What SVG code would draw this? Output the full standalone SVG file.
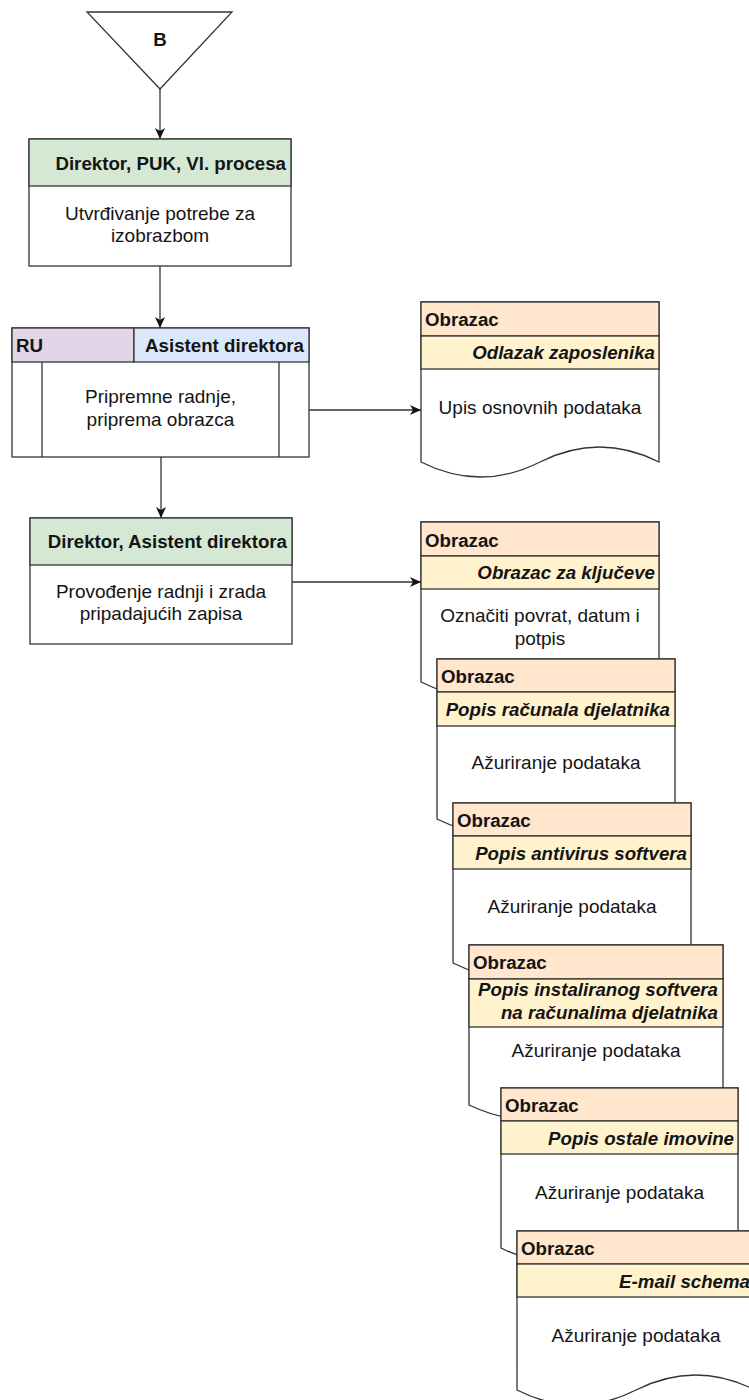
<svg xmlns="http://www.w3.org/2000/svg" width="749" height="1400" viewBox="0 0 749 1400">
<style>
text{font-family:"Liberation Sans",Arial,Helvetica,sans-serif;fill:#141414}
.n{font-size:19px}
.b{font-size:18.7px;font-weight:bold}
.bi{font-size:18.7px;font-weight:bold;font-style:italic}
.c{text-anchor:middle}
.e{text-anchor:end}
.s{stroke:#333333;stroke-width:1.3}
.w{fill:#ffffff}
.g{fill:#d5e8d4}
.p{fill:#e1d5e7}
.bl{fill:#dae8fc}
.h1{fill:#ffe6cc}
.h2{fill:#fff2cc}
.ln{fill:none;stroke:#333333;stroke-width:1.3}
</style>
<defs>
<marker id="arr" markerUnits="userSpaceOnUse" viewBox="0 0 11 10" refX="11" refY="5" markerWidth="11" markerHeight="10" orient="auto">
<path d="M0,0 L11,5 L0,10 L3,5 Z" fill="#141414"/>
</marker>
</defs>

<g id="connectors">
<line class="ln" x1="160" y1="89" x2="160" y2="139" marker-end="url(#arr)"/>
<line class="ln" x1="160" y1="266" x2="160" y2="328" marker-end="url(#arr)"/>
<line class="ln" x1="161" y1="457" x2="161" y2="518" marker-end="url(#arr)"/>
<line class="ln" x1="309" y1="410" x2="421" y2="410" marker-end="url(#arr)"/>
<line class="ln" x1="292" y1="582" x2="421" y2="582" marker-end="url(#arr)"/>
</g>

<g id="start-B">
<path class="s w" d="M87,12 L232,12 L160,89 Z"/>
<text class="b c" x="160" y="46">B</text>
</g>

<g id="node-utvrdivanje">
<rect class="s w" x="29" y="139" width="262" height="127"/>
<rect class="s g" x="29" y="139" width="262" height="47"/>
<text class="b e" x="286" y="170">Direktor, PUK, Vl. procesa</text>
<text class="n c" x="160" y="220">Utvrđivanje potrebe za</text>
<text class="n c" x="160" y="242">izobrazbom</text>
</g>

<g id="node-pripremne">
<rect class="s w" x="12" y="328" width="297" height="129"/>
<rect class="s p" x="12" y="328" width="122" height="34"/>
<rect class="s bl" x="134" y="328" width="175" height="34"/>
<line class="ln" x1="42" y1="362" x2="42" y2="457"/>
<line class="ln" x1="279" y1="362" x2="279" y2="457"/>
<text class="b" x="16" y="352">RU</text>
<text class="b e" x="304" y="352">Asistent direktora</text>
<text class="n c" x="160.5" y="403">Pripremne radnje,</text>
<text class="n c" x="160.5" y="426">priprema obrazca</text>
</g>

<g id="node-provodenje">
<rect class="s w" x="30" y="518" width="262" height="126"/>
<rect class="s g" x="30" y="518" width="262" height="47"/>
<text class="b e" x="287" y="548">Direktor, Asistent direktora</text>
<text class="n c" x="161" y="598">Provođenje radnji i zrada</text>
<text class="n c" x="161" y="620">pripadajućih zapisa</text>
</g>

<g id="doc-odlazak">
<path class="s w" d="M421,302 H659 V462 Q599.5,432 540,462 Q480.5,492 421,462 Z"/>
<rect class="s h1" x="421" y="302" width="238" height="34"/>
<rect class="s h2" x="421" y="336" width="238" height="33"/>
<text class="b" x="425" y="326">Obrazac</text>
<text class="bi e" x="655" y="359">Odlazak zaposlenika</text>
<text class="n c" x="540" y="414">Upis osnovnih podataka</text>
</g>

<g id="doc-kljucevi">
<path class="s w" d="M421,522 H659 V682 Q599.5,652 540,682 Q480.5,712 421,682 Z"/>
<rect class="s h1" x="421" y="522" width="238" height="34"/>
<rect class="s h2" x="421" y="556" width="238" height="33"/>
<text class="b" x="425" y="547">Obrazac</text>
<text class="bi e" x="655" y="579">Obrazac za ključeve</text>
<text class="n c" x="540" y="622">Označiti povrat, datum i</text>
<text class="n c" x="540" y="645">potpis</text>
</g>

<g id="doc-racunala">
<path class="s w" d="M437,659 H675 V819 Q615.5,789 556,819 Q496.5,849 437,819 Z"/>
<rect class="s h1" x="437" y="659" width="238" height="33"/>
<rect class="s h2" x="437" y="692" width="238" height="34"/>
<text class="b" x="441" y="683">Obrazac</text>
<text class="bi e" x="670" y="716">Popis računala djelatnika</text>
<text class="n c" x="556" y="769">Ažuriranje podataka</text>
</g>

<g id="doc-antivirus">
<path class="s w" d="M453,803 H691 V963 Q631.5,933 572,963 Q512.5,993 453,963 Z"/>
<rect class="s h1" x="453" y="803" width="238" height="33"/>
<rect class="s h2" x="453" y="836" width="238" height="33"/>
<text class="b" x="457" y="827">Obrazac</text>
<text class="bi e" x="687" y="860">Popis antivirus softvera</text>
<text class="n c" x="572" y="913">Ažuriranje podataka</text>
</g>

<g id="doc-instalirani-softver">
<path class="s w" d="M469,945 H723 V1105 Q659.5,1075 596,1105 Q532.5,1135 469,1105 Z"/>
<rect class="s h1" x="469" y="945" width="254" height="34"/>
<rect class="s h2" x="469" y="979" width="254" height="48"/>
<text class="b" x="473" y="969">Obrazac</text>
<text class="bi e" x="718" y="996">Popis instaliranog softvera</text>
<text class="bi e" x="718" y="1019">na računalima djelatnika</text>
<text class="n c" x="596" y="1057">Ažuriranje podataka</text>
</g>

<g id="doc-ostala-imovina">
<path class="s w" d="M501,1088 H738 V1248 Q678.75,1218 619.5,1248 Q560.25,1278 501,1248 Z"/>
<rect class="s h1" x="501" y="1088" width="237" height="33"/>
<rect class="s h2" x="501" y="1121" width="237" height="33"/>
<text class="b" x="505" y="1112">Obrazac</text>
<text class="bi e" x="734" y="1145">Popis ostale imovine</text>
<text class="n c" x="619.5" y="1199">Ažuriranje podataka</text>
</g>

<g id="doc-email">
<path class="s w" d="M517,1231 H755 V1390 Q695.5,1360 636,1390 Q576.5,1420 517,1390 Z"/>
<rect class="s h1" x="517" y="1231" width="238" height="33"/>
<rect class="s h2" x="517" y="1264" width="238" height="33"/>
<text class="b" x="521" y="1255">Obrazac</text>
<text class="bi e" x="750" y="1288">E-mail schema</text>
<text class="n c" x="636" y="1342">Ažuriranje podataka</text>
</g>
</svg>
